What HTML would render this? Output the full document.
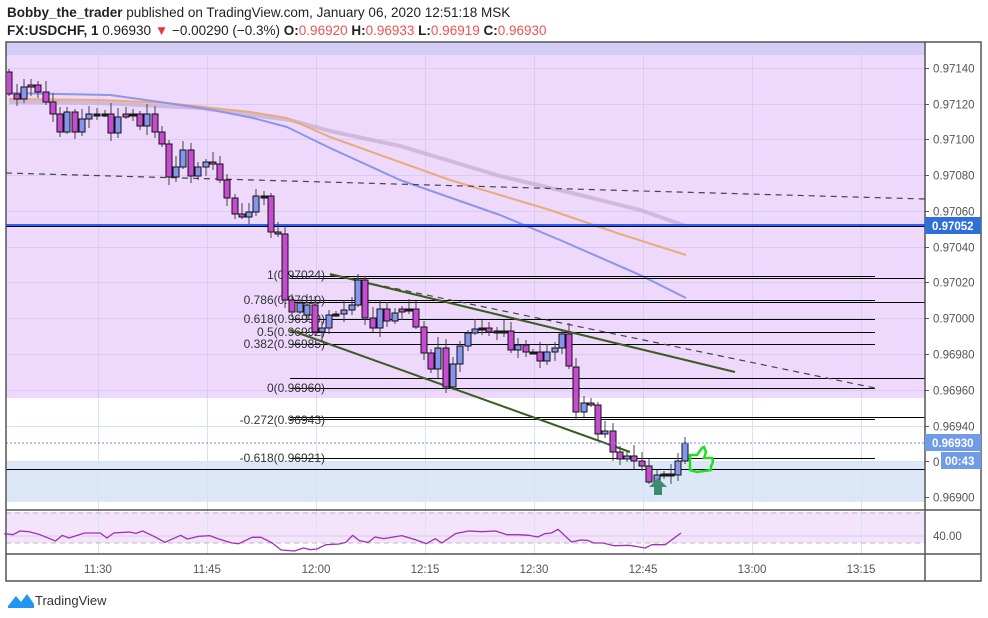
<!DOCTYPE html>
<html><head><meta charset="utf-8"><style>
body{margin:0;background:#fff;width:988px;height:618px;overflow:hidden;font-family:"Liberation Sans",sans-serif;}
svg{position:absolute;left:0;top:0}
</style></head><body>
<svg id="s" width="988" height="618" xmlns="http://www.w3.org/2000/svg" font-family="Liberation Sans, sans-serif">
<text x="7" y="17" font-size="13.5" fill="#222"><tspan font-weight="bold">Bobby_the_trader</tspan> published on TradingView.com, January 06, 2020 12:51:18 MSK</text>
<text x="7" y="35" font-size="13.5" fill="#222" font-weight="bold">FX:USDCHF, 1 <tspan font-weight="normal">0.96930</tspan><tspan fill="#e53935"> ▼ </tspan><tspan font-weight="normal">−0.00290 (−0.3%)</tspan> O:<tspan fill="#ef5350" font-weight="normal">0.96920</tspan> H:<tspan fill="#ef5350" font-weight="normal">0.96933</tspan> L:<tspan fill="#ef5350" font-weight="normal">0.96919</tspan> C:<tspan fill="#ef5350" font-weight="normal">0.96930</tspan></text>
<rect x="6" y="42" width="919" height="468" fill="#fff"/>
<rect x="6" y="42" width="919" height="13" fill="#d3ccf7"/>
<rect x="6" y="55" width="919" height="343" fill="#eed9fd"/>
<rect x="6" y="462" width="919" height="40" fill="#dce7f8"/>
<rect x="6" y="512" width="919" height="31" fill="#f3e4fc"/>
<g id="grid"></g>
<g id="draw"></g>
<rect x="6" y="42" width="975" height="539" fill="none" stroke="#555" stroke-width="1.5"/>
<line x1="925" y1="42" x2="925" y2="581" stroke="#555" stroke-width="1.5"/>
<line x1="6" y1="510" x2="981" y2="510" stroke="#555" stroke-width="1.5"/>
<line x1="6" y1="554" x2="981" y2="554" stroke="#555" stroke-width="1.5"/>
<g id="axis" font-size="11.5" fill="#555"></g>
<g transform="translate(8,592)"><path d="M0 14 L8 4 L13 10 L19 2 L26 12 L26 16 L0 16Z" fill="#2196f3"/></g>
<text x="35" y="605" font-size="13" fill="#333">TradingView</text>
</svg>
<script>
const S=document.getElementById('draw'),G=document.getElementById('grid'),A=document.getElementById('axis');
const NS='http://www.w3.org/2000/svg';
function el(p,t,a,txt){const e=document.createElementNS(NS,t);for(const k in a)e.setAttribute(k,a[k]);if(txt!==undefined)e.textContent=txt;p.appendChild(e);return e;}
const Y=p=>68+(0.97140-p)*178750;
const tx=[98,207,316,425,534,643,752,861],tl=['11:30','11:45','12:00','12:15','12:30','12:45','13:00','13:15'];
tx.forEach((x,i)=>{el(G,'line',{x1:x+.5,y1:42,x2:x+.5,y2:398,stroke:'#d6cdf0','stroke-width':1});el(G,'line',{x1:x+.5,y1:398,x2:x+.5,y2:554,stroke:'#d5e3f3','stroke-width':1});el(A,'text',{x:x,y:573,'text-anchor':'middle'},tl[i]);});
for(let i=0;i<=12;i++){const p=0.97140-i*0.0002,y=Math.round(Y(p))+.5;el(G,'line',{x1:6,y1:y,x2:925,y2:y,stroke:y<398?'#d6cdf0':'#d5e3f3','stroke-width':1});
 if(Math.abs(y-443)>10&&Math.abs(y-461)>8&&Math.abs(y-226)>10)el(A,'text',{x:933,y:y+4},p.toFixed(5));el(A,'line',{x1:925,y1:y,x2:929,y2:y,stroke:'#555'});}
el(A,'text',{x:933,y:466},'0');
el(A,'text',{x:933,y:540},'40.00');
el(G,'line',{x1:6,y1:513,x2:925,y2:513,stroke:'#bbb','stroke-dasharray':'5,4'});
el(G,'line',{x1:6,y1:543,x2:925,y2:543,stroke:'#bbb','stroke-dasharray':'5,4'});
el(G,'line',{x1:6,y1:536,x2:925,y2:536,stroke:'#d6cdf0'});
function pl(pts,c,w,o){el(S,'polyline',{points:pts.map(p=>p.join(',')).join(' '),fill:'none',stroke:c,'stroke-width':w,opacity:o||1,'stroke-linejoin':'round'});}
pl([[9,102],[100,103],[200,108],[290,120],[330,131],[400,146],[500,176],[580,195],[640,210],[686,226]],'#c9b0d6',4,0.8);
pl([[9,99],[100,100],[167,103],[250,112],[287,118],[330,137],[450,180],[550,210],[620,234],[686,255]],'#e9ab78',2);
pl([[9,93],[110,95],[167,103],[213,110],[253,118],[287,127],[330,148],[400,180],[500,215],[560,240],[640,275],[686,298]],'#8b95ea',2);
el(S,'line',{x1:6,y1:173,x2:925,y2:199,stroke:'#444','stroke-dasharray':'6,5','stroke-width':1.2});
el(S,'line',{x1:6,y1:225,x2:925,y2:225,stroke:'#2962ff','stroke-width':2});
el(S,'line',{x1:6,y1:226.5,x2:925,y2:226.5,stroke:'#000','stroke-width':1});
[[276,875],[278,925],[300,875],[302,925],[319,875],[332,875],[344,875],[378,925],[388,875],[417,925],[419,875],[458,875],[469,925]].forEach(l=>el(S,'line',{x1:290,y1:l[0]+.5,x2:l[1],y2:l[0]+.5,stroke:'#000','stroke-width':1,'shape-rendering':'crispEdges'}));
el(S,'line',{x1:6,y1:469.5,x2:290,y2:469.5,stroke:'#000','stroke-width':1,'shape-rendering':'crispEdges'});
[['1(0.97024)',279],['0.786(0.97010)',304],['0.618(0.96999)',323],['0.5(0.96992)',336],['0.382(0.96985)',348],['0(0.96960)',392],['-0.272(0.96943)',424],['-0.618(0.96921)',462]].forEach(t=>el(S,'text',{x:325,y:t[1],'text-anchor':'end','font-size':12,fill:'#333'},t[0]));
el(S,'line',{x1:330,y1:275,x2:875,y2:388,stroke:'#444','stroke-dasharray':'6,5','stroke-width':1.2});
el(S,'line',{x1:330,y1:274,x2:735,y2:372,stroke:'#3b5e1f','stroke-width':2});
el(S,'line',{x1:290,y1:330,x2:630,y2:452,stroke:'#3b5e1f','stroke-width':2});
const C=[[9,72,94],[17,94,99],[24,99,87],[31,85,87],[38,85,92],[46,92,102],[53,102,114],[60,114,132],[67,132,112],[75,112,132],[82,132,119],[89,119,114],[97,114,114],[105,114,114],[111,114,133],[118,133,117],[126,114,117],[133,114,114],[140,114,126],[147,126,114],[155,114,132],[162,132,144],[169,144,177],[176,177,167],[183,167,150],[191,150,176],[198,176,167],[206,167,162],[213,162,164],[220,164,180],[227,180,198],[235,198,214],[242,214,217],[249,217,212],[256,212,196],[264,196,196],[271,196,232],[278,232,234],[285,234,300],[292,300,312],[300,312,303],[307,315,305],[315,305,332],[322,332,328],[329,328,315],[336,314,314],[344,314,310],[352,310,305],[358,305,280],[365,280,318],[373,318,328],[380,328,309],[387,309,321],[395,321,313],[402,309,312],[409,309,309],[416,309,327],[424,327,353],[431,353,369],[438,369,348],[446,348,387],[453,387,364],[460,364,346],[468,346,333],[475,333,329],[482,328,328],[489,328,332],[497,331,331],[504,331,331],[511,331,350],[518,350,345],[526,345,352],[533,352,352],[540,352,361],[547,361,352],[555,352,348],[562,348,334],[569,334,366],[576,367,412],[584,412,403],[591,403,405],[598,405,434],[605,434,431],[613,431,452],[620,452,459],[627,459,456],[634,456,461],[642,461,466],[649,466,482],[657,482,475],[664,474,475],[671,474,475],[678,475,461],[685,461,443]];
C.forEach((c,i)=>{const x=c[0],o=c[1],cl=c[2],top=Math.min(o,cl),bot=Math.max(o,cl);const h=bot-top;
 const wt=top-(3+(i*7)%9),wb=bot+(2+(i*5)%8);
 el(S,'line',{x1:x,y1:wt,x2:x,y2:wb,stroke:'#444','stroke-width':1});
 const col=h<2?'#222':(cl<o?'#8494ef':'#c64bd1');
 el(S,'rect',{x:x-3,y:top,width:6,height:Math.max(h,2),fill:col,stroke:'#111','stroke-width':1});});
el(S,'line',{x1:6,y1:443,x2:925,y2:443,stroke:'#6b8fe0','stroke-dasharray':'2,2'});
el(S,'path',{d:'M690 455 L697 455 L702 448 L704 447 L706 452 L704 458 L712 458 Q714 462 711 466 L711 470 L697 472 L690 470 Z',fill:'none',stroke:'#22dd22','stroke-width':2.5});
el(S,'path',{d:'M658 478 L667 487 L662 487 L662 495 L654 495 L654 487 L649 487 Z',fill:'#3e8a72'});
const R=[[20,132],[40,135],[55,124],[75,126],[100,135],[135,154],[150,137],[165,145],[200,130],[235,130],[250,145],[265,130],[300,127],[315,131],[330,124],[355,140],[380,158],[415,137],[430,148],[455,140],[480,138],[500,148],[530,160],[545,162],[575,143],[595,143],[620,160],[640,181],[670,184],[690,175],[705,180],[720,178],[740,165],[770,163],[785,158],[800,137],[815,153],[835,158],[850,142],[870,147],[910,138],[940,150],[965,162],[985,147],[1000,160],[1030,132],[1060,124],[1090,126],[1120,124],[1145,135],[1170,135],[1195,137],[1215,142],[1230,132],[1245,130],[1260,119],[1290,157],[1310,151],[1325,152],[1340,160],[1360,160],[1385,168],[1420,167],[1455,175],[1470,165],[1500,165],[1535,130]];
pl(R.map(p=>[(p[0]-230)*0.4467+98,513+(p[1]-70)/3]),'#a12fb8',1.3);
el(A,'rect',{x:925,y:217,width:56,height:17,fill:'#2f6fd8'});el(A,'text',{x:932,y:230,fill:'#fff','font-weight':'bold'},'0.97052');
el(A,'rect',{x:925,y:434,width:56,height:17,fill:'#6f9be8'});el(A,'text',{x:932,y:447,fill:'#fff','font-weight':'bold'},'0.96930');
el(A,'rect',{x:941,y:452,width:40,height:17,fill:'#6f9be8'});el(A,'text',{x:945,y:465,fill:'#fff','font-weight':'bold'},'00:43');
</script>
</body></html>
